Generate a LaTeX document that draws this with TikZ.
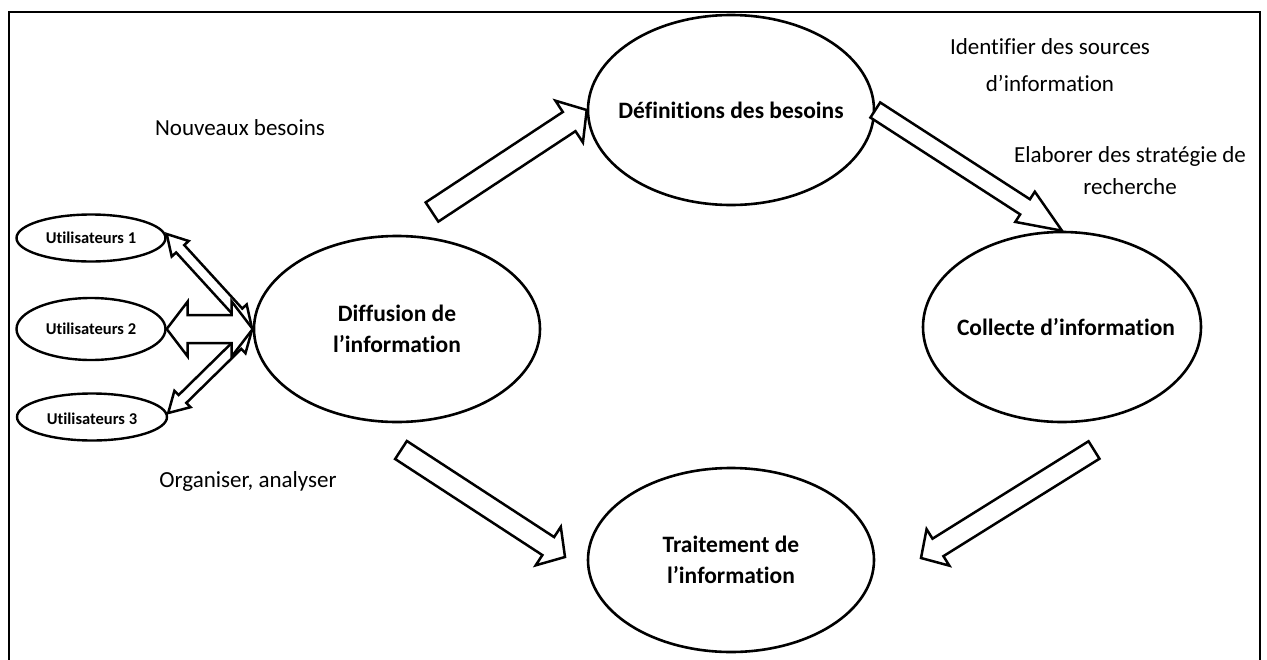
\documentclass[tikz,border=0pt]{standalone}
\usepackage{fontspec}
\setmainfont{Carlito}[Ligatures=CommonOff]
\usetikzlibrary{shapes.geometric,calc}

% Hollow block arrow from #1 (tail) to #2 (tip):
% #3 half shaft width, #4 half head width, #5 head length
\newcommand\blockarrow[5]{%
  \coordinate (ba-neck) at ($(#2)!#5!(#1)$);
  \draw[blockstyle]
    ($(#1)!#3!90:(#2)$) -- ($(ba-neck)!#3!90:(#2)$) -- ($(ba-neck)!#4!90:(#2)$)
    -- (#2)
    -- ($(ba-neck)!#4!-90:(#2)$) -- ($(ba-neck)!#3!-90:(#2)$) -- ($(#1)!#3!-90:(#2)$)
    -- cycle;
}
% Hollow double-headed block arrow between #1 and #2
\newcommand\dblarrow[5]{%
  \coordinate (da-neckA) at ($(#1)!#5!(#2)$);
  \coordinate (da-neckB) at ($(#2)!#5!(#1)$);
  \draw[blockstyle]
    (#1) -- ($(da-neckA)!#4!90:(#2)$) -- ($(da-neckA)!#3!90:(#2)$)
    -- ($(da-neckB)!#3!-90:(#1)$) -- ($(da-neckB)!#4!-90:(#1)$)
    -- (#2)
    -- ($(da-neckB)!#4!90:(#1)$) -- ($(da-neckB)!#3!90:(#1)$)
    -- ($(da-neckA)!#3!-90:(#2)$) -- ($(da-neckA)!#4!-90:(#2)$)
    -- cycle;
}

\begin{document}
\begin{tikzpicture}[x=1pt,y=-1pt,
  bubble/.style={draw, ellipse, line width=2.6pt, inner sep=0pt},
  bubbletext/.style={align=center, inner sep=0pt,
    font=\bfseries\fontsize{23.5}{31}\selectfont},
  userbubble/.style={draw, ellipse, line width=2.4pt, inner sep=0pt},
  usertext/.style={inner sep=0pt, font=\bfseries\fontsize{16.5}{19}\selectfont},
  note/.style={align=center, inner sep=0pt, font=\fontsize{23}{33}\selectfont},
  blockstyle/.style={draw, fill=white, line width=2.5pt, line join=miter}]
\useasboundingbox (0,0) rectangle (1267,659);

% open frame
\draw[line width=2pt] (8.5,664) -- (8.5,12) -- (1259.5,12) -- (1259.5,664);

% main stages
\node[bubble, minimum width=286, minimum height=190,
  label={[bubbletext]center:Définitions des besoins}] (def) at (731,110) {};
\node[bubble, minimum width=286, minimum height=186,
  label={[bubbletext]center:Diffusion de\\l’information}] (diff) at (397,329) {};
\node[bubble, minimum width=278, minimum height=190,
  label={[bubbletext, xshift=4pt]center:Collecte d’information}] (coll) at (1062,327) {};
\node[bubble, minimum width=286, minimum height=184,
  label={[bubbletext]center:Traitement de\\l’information}] (trait) at (731,560) {};

% users
\node[userbubble, minimum width=149, minimum height=47,
  label={[usertext]center:Utilisateurs 1}] (u1) at (91,238) {};
\node[userbubble, minimum width=149, minimum height=62,
  label={[usertext]center:Utilisateurs 2}] (u2) at (91,329) {};
\node[userbubble, minimum width=150, minimum height=47,
  label={[usertext, yshift=-2pt]center:Utilisateurs 3}] (u3) at (92,417) {};

% side notes
\node[note] (nb) at (240,128) {Nouveaux besoins};
\node[note] (oa) at (248,481) {Organiser, analyser};
\node[note, font=\fontsize{23}{37}\selectfont] (ids) at (1050,65) {Identifier des sources\\d’information};
\node[note, font=\fontsize{23}{32}\selectfont] (elab) at (1130,171) {Elaborer des stratégie de\\recherche};

% free ends of the cycle arrows
\coordinate (a1tail) at (432,212);
\coordinate (a3tail) at (401,450);
\coordinate (a3tip) at (565,557);
\coordinate (a4tail) at (1094,450);
\coordinate (a4tip) at (921,558);
\coordinate (u1end) at ($(u1.east)+(0,-4)$);
\coordinate (u3end) at ($(u3.east)+(0,-4)$);
\coordinate (d1end) at ($(diff.west)+(-1,-2)$);
\coordinate (d3end) at ($(diff.west)+(-1,2)$);

% cycle arrows
\blockarrow{a1tail}{def.west}{11.5pt}{25pt}{21pt}
\blockarrow{def.east}{coll.north}{9pt}{18pt}{44pt}
\blockarrow{a3tail}{a3tip}{10.75pt}{23pt}{20pt}
\blockarrow{a4tail}{a4tip}{10.3pt}{21.5pt}{20pt}

% user exchanges
\dblarrow{u1end}{d1end}{5.5pt}{11.5pt}{20pt}
\dblarrow{u3end}{d3end}{5.5pt}{11.5pt}{20pt}
\dblarrow{u2.east}{diff.west}{14pt}{27.5pt}{21pt}

\end{tikzpicture}
\end{document}
